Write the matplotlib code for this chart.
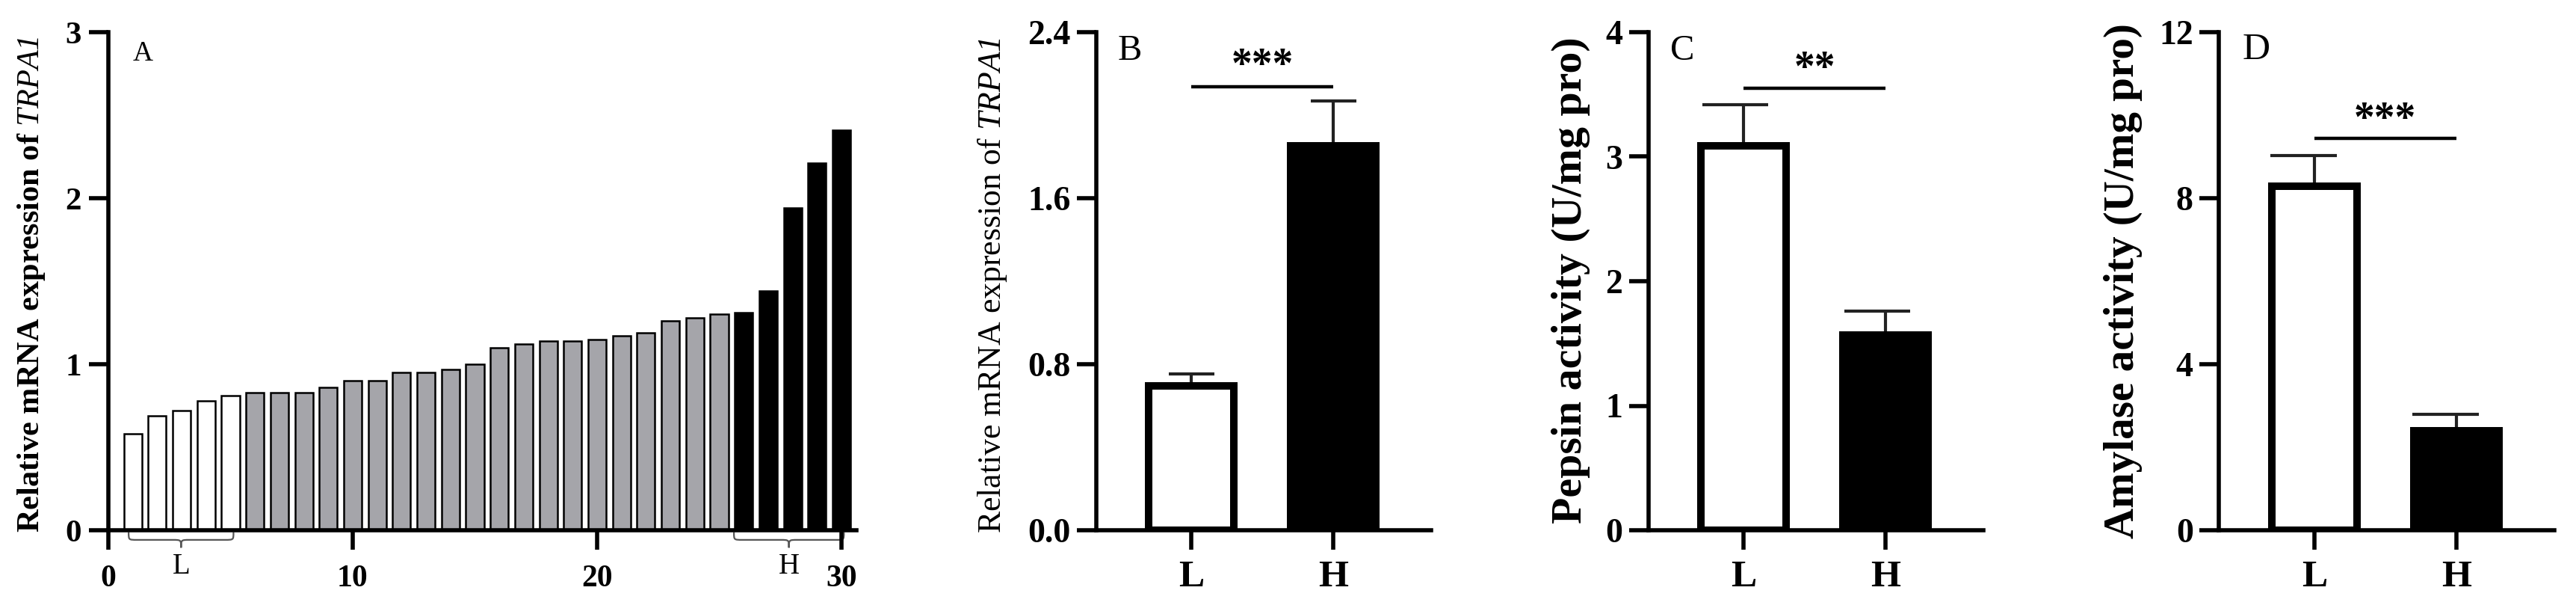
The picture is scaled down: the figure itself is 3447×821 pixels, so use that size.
import matplotlib
matplotlib.use("Agg")
import matplotlib.pyplot as plt
from matplotlib.path import Path
from matplotlib.patches import PathPatch
import numpy as np

plt.rcParams['font.family'] = ['Liberation Serif', 'DejaVu Serif']
plt.rcParams['mathtext.fontset'] = 'custom'
# only the gene name is math text; digits fall back to 'rm', so make it italic
plt.rcParams['mathtext.rm'] = 'Liberation Serif:italic'
plt.rcParams['mathtext.it'] = 'Liberation Serif:italic'
plt.rcParams['mathtext.bf'] = 'Liberation Serif:bold'

# ---------------- data ----------------
sample_idx = np.arange(1, 31)
trpa1_expr = [0.58, 0.69, 0.72, 0.78, 0.81, 0.83, 0.83, 0.83, 0.86, 0.90,
              0.90, 0.95, 0.95, 0.97, 1.00, 1.10, 1.12, 1.14, 1.14, 1.15,
              1.17, 1.19, 1.26, 1.28, 1.30, 1.31, 1.44, 1.94, 2.21, 2.41]
sample_group = ['L'] * 5 + ['M'] * 20 + ['H'] * 5
A_xticks = [0, 10, 20, 30]
A_yticks = [0, 1, 2, 3]

group_labels = ['L', 'H']
trpa1_mean = [0.695, 1.852]
trpa1_err = [0.058, 0.218]
pepsin_mean = [3.09, 1.57]
pepsin_err = [0.33, 0.19]
amylase_mean = [8.29, 2.39]
amylase_err = [0.74, 0.40]

B_yticks = [0.0, 0.8, 1.6, 2.4]
C_yticks = [0, 1, 2, 3, 4]
D_yticks = [0, 4, 8, 12]

sig_B, sig_C, sig_D = '***', '**', '***'
sigline_B, sigline_C, sigline_D = 2.137, 3.55, 9.45

# ---------------- figure ----------------
W, H = 3448, 821
fig = plt.figure(figsize=(W / 100, H / 100), dpi=100)

Y0_PX, YTOP_PX = 709, 43


def add_axes_px(left_px, xlo, xhi, px_per_unit):
    width_px = (xhi - xlo) * px_per_unit
    return fig.add_axes([left_px / W, (H - Y0_PX) / H,
                         width_px / W, (Y0_PX - YTOP_PX) / H])


AX_LW = 4.0
TICK_LEN = 19
fill_colors = {'L': 'white', 'M': '#a5a5aa', 'H': 'black'}
label_targets = []  # (axes, target length px, x px, y px)


def style_axes(ax):
    for s in ['top', 'right']:
        ax.spines[s].set_visible(False)
    for s in ['left', 'bottom']:
        ax.spines[s].set_linewidth(AX_LW)
        ax.spines[s].set_capstyle('projecting')
    ax.tick_params(direction='out', length=TICK_LEN, width=AX_LW, color='black')


def brace(ax, x0, x1, ytop, ymid, ytip, q, color='#555555', lw=1.6):
    xm = (x0 + x1) / 2
    verts = [(x0, ytop), (x0, ymid), (x0, ymid), (x0 + q, ymid),
             (xm - q, ymid),
             (xm, ymid), (xm, ymid), (xm, ytip),
             (xm, ymid), (xm, ymid), (xm + q, ymid),
             (x1 - q, ymid),
             (x1, ymid), (x1, ymid), (x1, ytop)]
    codes = [Path.MOVETO, Path.CURVE4, Path.CURVE4, Path.CURVE4,
             Path.LINETO,
             Path.CURVE4, Path.CURVE4, Path.CURVE4,
             Path.CURVE4, Path.CURVE4, Path.CURVE4,
             Path.LINETO,
             Path.CURVE4, Path.CURVE4, Path.CURVE4]
    ax.add_patch(PathPatch(Path(verts, codes), fill=False, edgecolor=color,
                           lw=lw, clip_on=False, capstyle='round'))


# ---------------- Panel A ----------------
axA = add_axes_px(145, 0, 30.6, 32.7)
axA.bar(sample_idx, trpa1_expr, width=0.74,
        color=[fill_colors[g] for g in sample_group],
        edgecolor='black', linewidth=1.8, zorder=2)
axA.set_xlim(0, 30.6)
axA.set_ylim(0, 3)
style_axes(axA)
axA.set_xticks(A_xticks)
axA.set_xticklabels([str(v) for v in A_xticks], fontsize=30, fontweight='bold')
axA.set_yticks(A_yticks)
axA.set_yticklabels([str(v) for v in A_yticks], fontsize=31, fontweight='bold')
axA.tick_params(axis='x', pad=14)
axA.tick_params(axis='y', pad=7)
axA.set_ylabel('Relative mRNA expression of $\\mathit{TRPA1}$', fontsize=26,
               fontweight='bold')
label_targets.append((axA, 665, 42, 380))

# braces under L and H groups
idx = np.array(sample_idx)
grp = np.array(sample_group)
for g, lpad, rpad in [('L', 0.17, 0.12), ('H', 0.4, 0.1)]:
    xs = idx[grp == g]
    x0, x1 = xs.min() - lpad, xs.max() + rpad
    brace(axA, x0, x1, -0.015, -0.058, -0.105, 0.35)
    axA.text((x0 + x1) / 2, -0.22, g, ha='center', va='center', fontsize=28,
             clip_on=False)

fig.text(191 / W, 1 - 72 / H, 'A', ha='center', va='center', fontsize=27)


# ---------------- Panels B-D ----------------
def group_panel(left_px, means, errs, yticks, ylabels, ylabel, label_kw,
                label_len, label_x_px, label_y_px, sig, sig_y, star_y, cap,
                letter, letter_xy, letter_size):
    ax = add_axes_px(left_px, 0.33, 2.69, 190)
    x = np.arange(1, len(means) + 1)
    ax.bar(x, means, width=0.6, color=['white', 'black'], edgecolor='black',
           linewidth=7.2, zorder=3)
    for xi, m, e in zip(x, means, errs):
        ax.vlines(xi, m, m + e, color='#222222', lw=3.0, zorder=2)
        ax.hlines(m + e, xi - cap[0], xi + cap[1], color='#222222', lw=3.0,
                  zorder=2)
    ax.set_xlim(0.33, 2.69)
    ax.set_ylim(yticks[0], yticks[-1])
    style_axes(ax)
    ax.set_xticks(x)
    ax.set_xticklabels(group_labels, fontsize=37, fontweight='bold')
    ax.set_yticks(yticks)
    ax.set_yticklabels(ylabels, fontsize=33, fontweight='bold')
    ax.tick_params(axis='x', pad=10)
    ax.tick_params(axis='y', pad=6)
    ax.set_ylabel(ylabel, **label_kw)
    label_targets.append((ax, label_len, label_x_px, label_y_px))
    ax.hlines(sig_y, x[0], x[1], color='black', lw=3.2, zorder=2)
    ax.annotate(sig, xy=(x.mean(), star_y), xytext=(0, -20),
                textcoords='offset points', ha='center', va='baseline',
                fontsize=40, fontweight='bold', annotation_clip=False)
    fig.text(letter_xy[0] / W, 1 - letter_xy[1] / H, letter, ha='center',
             va='center', fontsize=letter_size)
    return ax


group_panel(1467, trpa1_mean, trpa1_err, B_yticks,
            [f'{v:.1f}' for v in B_yticks],
            'Relative mRNA expression of $\\mathit{TRPA1}$',
            dict(fontsize=28), 663, 1328, 381, sig_B, sigline_B, 2.285,
            (0.16, 0.16), 'B', (1512, 68), 35)

group_panel(2206, pepsin_mean, pepsin_err, C_yticks,
            [str(v) for v in C_yticks], 'Pepsin activity (U/mg pro)',
            dict(fontsize=40, fontweight='bold'), 650, 2102, 375, sig_C,
            sigline_C, 3.78, (0.29, 0.17), 'C', (2251, 68), 35)

group_panel(2969.5, amylase_mean, amylase_err, D_yticks,
            [str(v) for v in D_yticks], 'Amylase activity (U/mg pro)',
            dict(fontsize=40, fontweight='bold'), 689, 2841, 376, sig_D,
            sigline_D, 10.13, (0.31, 0.16), 'D', (3019, 67), 37)

# fit y-label lengths to the reference and place them
fig.canvas.draw()
renderer = fig.canvas.get_renderer()
for ax, target, xp, yp in label_targets:
    lab = ax.yaxis.label
    cur = lab.get_window_extent(renderer).height
    lab.set_fontsize(lab.get_fontsize() * target / cur)
    ax.yaxis.set_label_coords(xp / W, 1 - yp / H, transform=fig.transFigure)
    lab.set_verticalalignment('center')

fig.savefig('out.png', dpi=100)
